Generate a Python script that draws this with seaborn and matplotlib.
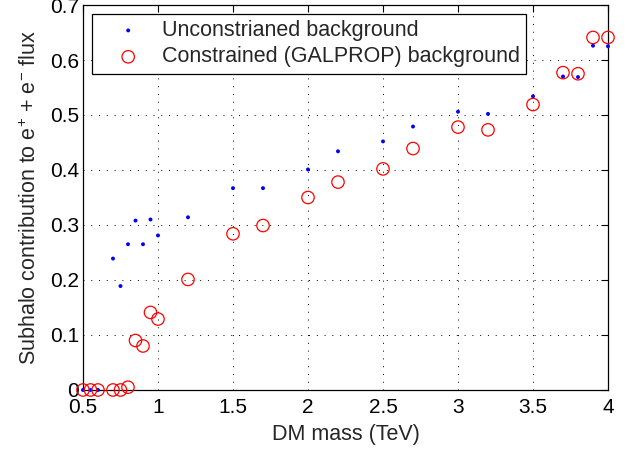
import matplotlib
matplotlib.use("Agg")
import matplotlib.pyplot as plt
import seaborn as sns
import pandas as pd
from matplotlib.ticker import FuncFormatter

# Data
mass_unc = [0.5, 0.55, 0.6, 0.7, 0.75, 0.8, 0.85, 0.9, 0.95, 1.0, 1.2, 1.5, 1.7, 2.0, 2.2, 2.5, 2.7, 3.0, 3.2, 3.5, 3.7, 3.8, 3.9, 4.0]
flux_unc = [0.0, 0.0, 0.0, 0.239, 0.189, 0.265, 0.308, 0.265, 0.310, 0.281, 0.314, 0.367, 0.367, 0.401, 0.434, 0.452, 0.479, 0.506, 0.502, 0.534, 0.570, 0.569, 0.626, 0.625]

mass_con = [0.5, 0.55, 0.6, 0.7, 0.75, 0.8, 0.85, 0.9, 0.95, 1.0, 1.2, 1.5, 1.7, 2.0, 2.2, 2.5, 2.7, 3.0, 3.2, 3.5, 3.7, 3.8, 3.9, 4.0]
flux_con = [0.0, 0.0, 0.0, 0.0, 0.0, 0.005, 0.090, 0.080, 0.141, 0.129, 0.201, 0.284, 0.299, 0.350, 0.378, 0.402, 0.439, 0.478, 0.473, 0.519, 0.577, 0.575, 0.641, 0.641]

label_unc = "Unconstrianed background"
label_con = "Constrained (GALPROP) background"
xticks = [0.5, 1, 1.5, 2, 2.5, 3, 3.5, 4]
yticks = [0, 0.1, 0.2, 0.3, 0.4, 0.5, 0.6, 0.7]

sns.set_style("white")
plt.rcParams['font.family'] = ['Liberation Sans', 'DejaVu Sans']
plt.rcParams['mathtext.fontset'] = 'custom'
plt.rcParams['mathtext.rm'] = 'Liberation Sans'
plt.rcParams['mathtext.it'] = 'Liberation Sans'

df_unc = pd.DataFrame({"mass": mass_unc, "flux": flux_unc})
df_con = pd.DataFrame({"mass": mass_con, "flux": flux_con})

fig = plt.figure(figsize=(6.34, 4.51), dpi=100)
ax = fig.add_axes([0.1309, 0.1353, 0.8281, 0.8536])

sns.scatterplot(data=df_unc, x="mass", y="flux", ax=ax, marker="o", s=8,
                color="#0000ff", edgecolor="none", label=label_unc, zorder=3,
                clip_on=False)
sns.scatterplot(data=df_con, x="mass", y="flux", ax=ax, marker="o", s=80,
                facecolor="none", edgecolor="#ff0000", linewidth=0.9,
                label=label_con, zorder=4, clip_on=False)

ax.set_xlim(0.5, 4)
ax.set_ylim(0, 0.7)
ax.set_xticks(xticks)
ax.set_yticks(yticks)
ax.xaxis.set_major_formatter(FuncFormatter(lambda v, p: f"{v:g}"))
ax.yaxis.set_major_formatter(FuncFormatter(lambda v, p: f"{v:g}"))
ax.tick_params(direction="in", top=True, right=True, length=5, width=0.8,
               labelsize=15, colors="black", pad=3)
ax.tick_params(axis="x", pad=6)
ax.grid(True, linestyle=(0, (1, 7)), color="black", linewidth=0.7)
for sp in ax.spines.values():
    sp.set_color("black")
    sp.set_linewidth(0.9)

ax.set_xlabel("DM mass (TeV)", fontsize=15.5, labelpad=5)
ax.set_ylabel("Subhalo contribution to e$^{+}$ + e$^{-}$ flux", fontsize=15.5, labelpad=6)

leg = ax.legend(loc="upper left", fontsize=15.5, frameon=True, fancybox=False,
                edgecolor="black", framealpha=1, borderaxespad=0.4,
                handletextpad=0.15, borderpad=0.3, labelspacing=0.25,
                handlelength=2.8)
leg.get_frame().set_linewidth(0.9)

fig.savefig("out.png", dpi=100)
